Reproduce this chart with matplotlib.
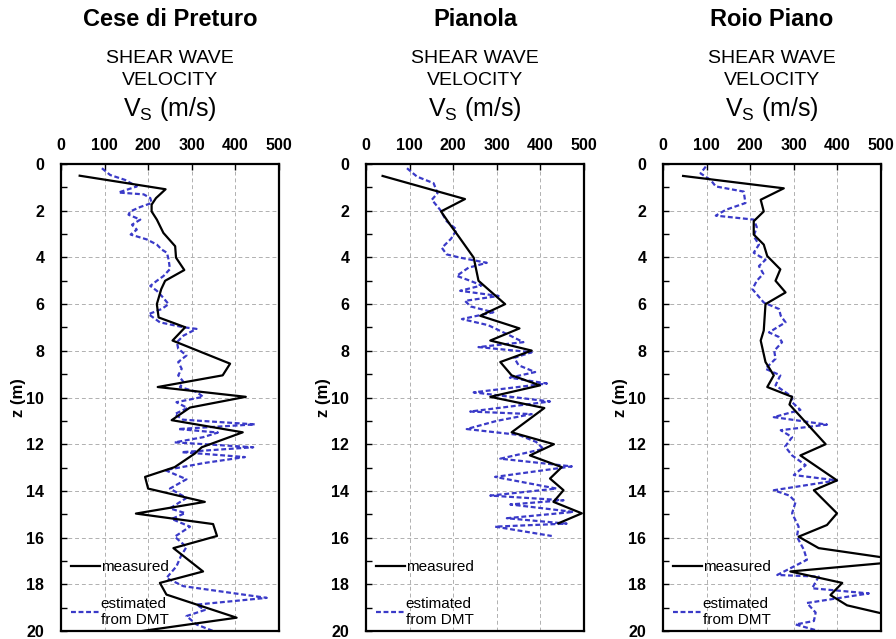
import matplotlib
matplotlib.use("Agg")
import matplotlib.pyplot as plt

plt.rcParams['font.family'] = ['Liberation Sans', 'DejaVu Sans']

sites = ["Cese di Preturo", "Pianola", "Roio Piano"]
vs_ticks = [0, 100, 200, 300, 400, 500]
z_ticks = [0, 2, 4, 6, 8, 10, 12, 14, 16, 18, 20]

# Cese di Preturo
cese_meas_z = [0.5, 1.08, 1.46, 1.74, 2.03, 2.38, 2.95, 3.52, 4.01, 4.54, 5.0, 5.36, 6.0, 6.57, 6.99,
               7.56, 8.55, 9.05, 9.55, 9.97, 10.43, 10.97, 11.49, 12.13, 12.4, 12.98, 13.4, 13.9,
               14.47, 14.97, 15.42, 15.93, 16.45, 17.45, 17.94, 18.44, 19.43, 20.2]
cese_meas_vs = [43, 240, 218, 208, 208, 220, 235, 262, 264, 283, 239, 230, 220, 224, 285,
                256, 388, 371, 222, 424, 296, 254, 417, 323, 307, 261, 193, 200,
                330, 172, 349, 358, 258, 326, 227, 242, 403, 110]
cese_dmt_z = [0.18, 0.47, 0.68, 0.96, 1.22, 1.3, 1.46, 1.67, 1.84, 2.03, 2.17, 2.38, 2.6, 2.81, 3.02,
              3.23, 3.45, 3.66, 3.8, 4.09, 4.5, 4.8, 5.0, 5.22, 5.43, 5.65, 6.0, 6.21, 6.43, 6.78,
              6.99, 7.06, 7.35, 7.63, 7.91, 8.2, 8.48, 8.77, 9.05, 9.33, 9.55, 9.76, 9.97, 10.2,
              10.45, 10.71, 10.95, 11.15, 11.35, 11.5, 11.7, 11.92, 12.13, 12.34, 12.55, 12.8,
              13.11, 13.5, 13.9, 14.3, 14.75, 14.95, 15.2, 15.53, 15.96, 16.4, 16.8, 17.23, 17.73,
              18.08, 18.58, 18.87, 19.1, 19.36, 19.72, 20.0]
cese_dmt_vs = [94, 113, 147, 174, 132, 190, 205, 208, 182, 159, 155, 182, 163, 174, 160,
               197, 220, 231, 243, 247, 250, 235, 220, 205, 220, 231, 247, 231, 201, 227,
               281, 311, 281, 266, 269, 288, 269, 277, 269, 281, 273, 311, 326, 265,
               290, 261, 280, 445, 269, 360, 326, 261, 441, 277, 422, 330,
               239, 288, 250, 288, 250, 285, 254, 296, 261, 288, 275, 265, 242,
               281, 472, 311, 330, 288, 311, 349]

# Pianola
pian_meas_z = [0.51, 1.5, 2.03, 2.6, 3.09, 4.01, 5.0, 6.0, 6.5, 7.04, 7.56, 7.99, 8.48, 9.05, 9.48,
               9.97, 10.45, 11.49, 12.0, 12.48, 12.98, 13.47, 13.97, 14.47, 14.96, 15.39]
pian_meas_vs = [38, 227, 172, 193, 212, 247, 258, 319, 262, 352, 285, 380, 308, 334, 399,
                285, 409, 334, 431, 376, 449, 422, 453, 430, 495, 441]
pian_dmt_z = [0.18, 0.54, 0.82, 1.25, 1.53, 1.96, 2.45, 2.81, 3.2, 3.59, 3.87, 4.01, 4.23, 4.44,
              4.79, 5.0, 5.2, 5.43, 5.65, 5.86, 6.1, 6.35, 6.64, 6.9, 7.28, 7.63, 7.84, 8.06, 8.3,
              8.62, 8.91, 9.15, 9.4, 9.78, 10.17, 10.6, 10.71, 11.0, 11.35, 11.6, 11.9, 12.2,
              12.62, 12.95, 13.4, 13.9, 14.2, 14.4, 14.58, 14.9, 15.17, 15.4, 15.53, 15.93]
pian_dmt_vs = [94, 117, 155, 164, 151, 170, 185, 208, 195, 174, 185, 216, 277, 235,
               208, 239, 265, 216, 304, 227, 240, 292, 220, 280, 323, 361, 258, 380, 340,
               350, 388, 330, 415, 247, 422, 239, 380, 300, 231, 350, 390, 407,
               308, 472, 296, 437, 285, 453, 331, 476, 323, 460, 296, 426]

# Roio Piano
roio_meas_z = [0.51, 1.04, 1.53, 2.03, 2.45, 3.02, 3.45, 3.94, 4.51, 5.0, 5.5, 6.0, 7.13, 7.56,
               8.48, 9.05, 9.55, 9.97, 10.3, 12.0, 12.48, 13.55, 13.97, 14.96, 15.46, 15.96,
               16.45, 17.0, 17.45, 17.94, 18.46, 18.9, 19.5]
roio_meas_vs = [46, 277, 224, 231, 208, 208, 231, 239, 269, 258, 281, 235, 231, 224,
                235, 254, 239, 296, 290, 373, 315, 399, 346, 399, 376, 311,
                357, 560, 292, 411, 384, 422, 560]
roio_dmt_z = [0.11, 0.4, 0.68, 0.96, 1.18, 1.67, 1.96, 2.21, 2.38, 2.7, 3.09, 3.45, 3.8, 4.1,
              4.37, 4.7, 5.0, 5.36, 5.93, 6.21, 6.5, 6.78, 7.21, 7.4, 7.63, 8.0, 8.34, 8.77,
              9.05, 9.48, 9.97, 10.2, 10.53, 10.84, 11.16, 11.4, 11.7, 12.1, 12.48, 12.9,
              13.32, 13.55, 13.97, 14.2, 14.47, 14.96, 15.53, 15.96, 16.52, 16.95, 17.6,
              17.67, 18.17, 18.39, 18.8, 19.21, 19.57, 19.72, 20.0]
roio_dmt_vs = [98, 86, 109, 121, 185, 189, 144, 121, 208, 215, 208, 220, 208, 235,
               220, 230, 215, 205, 231, 266, 270, 281, 243, 265, 273, 255, 258, 235,
               269, 258, 296, 296, 315, 254, 376, 270, 296, 280, 296, 327,
               300, 399, 254, 290, 304, 296, 311, 307, 323, 330, 262,
               357, 342, 472, 330, 350, 346, 304, 357]

measured = [(cese_meas_vs, cese_meas_z), (pian_meas_vs, pian_meas_z), (roio_meas_vs, roio_meas_z)]
dmt = [(cese_dmt_vs, cese_dmt_z), (pian_dmt_vs, pian_dmt_z), (roio_dmt_vs, roio_dmt_z)]

fig = plt.figure(figsize=(8.96, 6.39), dpi=100)
lefts = [0.068, 0.4085, 0.740]
w, b, h = 0.2433, 0.0125, 0.7308

for i, name in enumerate(sites):
    ax = fig.add_axes([lefts[i], b, w, h])
    ax.plot(measured[i][0], measured[i][1], color='black', lw=1.6, label='measured', zorder=3)
    ax.plot(dmt[i][0], dmt[i][1], color='#3a3ac8', lw=1.6, ls=(0, (2.2, 1.2)),
            label='estimated\nfrom DMT', zorder=2)
    ax.set_xlim(0, 500)
    ax.set_ylim(20, 0)
    ax.set_xticks(vs_ticks)
    ax.set_yticks(z_ticks)
    ax.set_yticks(range(1, 20, 2), minor=True)
    ax.xaxis.tick_top()
    ax.tick_params(axis='both', which='both', direction='in', length=4, width=1, pad=8,
                   labelsize=11.5)
    ax.tick_params(axis='y', pad=12)
    for lab in ax.get_xticklabels() + ax.get_yticklabels():
        lab.set_fontweight('bold')
    ax.grid(True, which='major', color='#b0b0b0', ls=(0, (4, 3)), lw=0.7)
    for sp in ax.spines.values():
        sp.set_linewidth(1.6)
    ax.set_ylabel('z (m)', fontsize=12, fontweight='bold', labelpad=0)
    leg = ax.legend(loc='lower left', bbox_to_anchor=(0.018, -0.005), frameon=False, fontsize=11,
                    handlelength=1.9, handletextpad=0.05, labelspacing=1.5, borderaxespad=0.0)
    for t in leg.get_texts():
        t.set_multialignment('left')

    cx = lefts[i] + w / 2
    fig.text(cx, 0.970, name, ha='center', va='center', fontsize=17, fontweight='bold')
    fig.text(cx, 0.909, 'SHEAR WAVE', ha='center', va='center', fontsize=14)
    fig.text(cx, 0.874, 'VELOCITY', ha='center', va='center', fontsize=14)
    fig.text(cx, 0.830, r'V$_\mathregular{S}$ (m/s)', ha='center', va='center', fontsize=18)

fig.savefig('out.png', dpi=100)
